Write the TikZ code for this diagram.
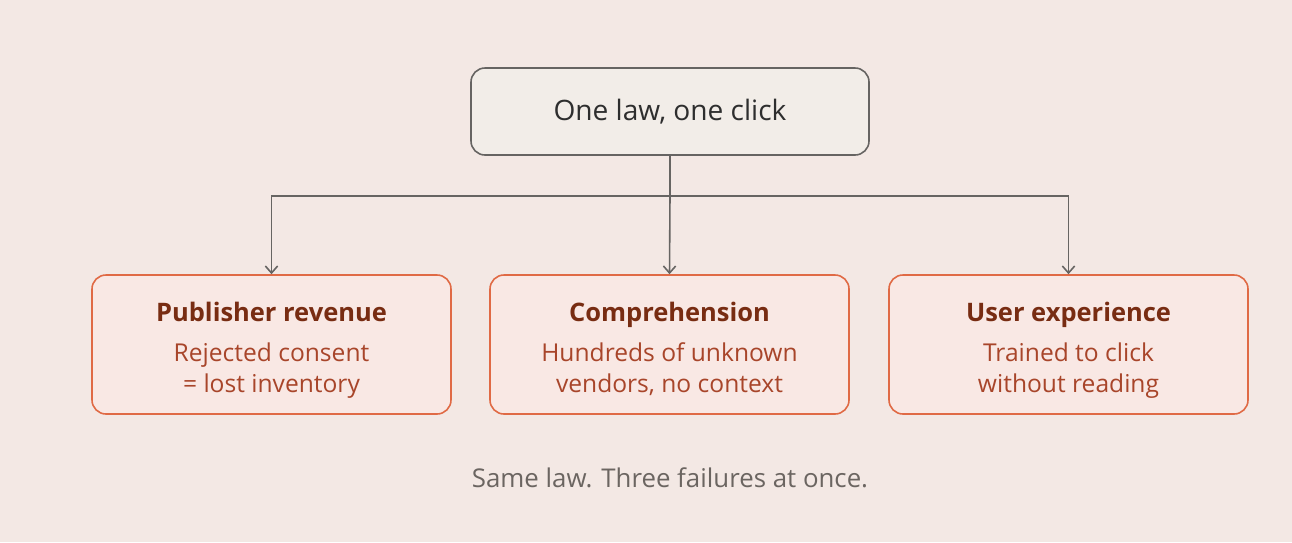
\documentclass[tikz,border=0pt]{standalone}
\usepackage{xcolor}
\usepackage{fontspec}
\setmainfont{Open Sans}
\usepackage{tikz}
\usetikzlibrary{arrows.meta}

\definecolor{bgcol}{HTML}{F3E8E4}
\definecolor{rootfill}{HTML}{F2EDE8}
\definecolor{rootline}{HTML}{666462}
\definecolor{failfill}{HTML}{F9E8E4}
\definecolor{failline}{HTML}{E06A45}
\definecolor{failhead}{HTML}{782C12}
\definecolor{failtext}{HTML}{A8452A}
\definecolor{notecol}{HTML}{6B6561}

\newcommand{\failtitle}[1]{\rule{0pt}{19pt}{\fontsize{14.5}{17}\selectfont\bfseries\color{failhead}#1}}
\newcommand{\failend}{\rule[-4.5pt]{0pt}{1pt}}

\begin{document}
\begin{tikzpicture}[x=0.02cm, y=-0.02cm]
        % Define styles
        \tikzset{
            root/.style={rectangle, rounded corners=14*0.02cm, draw=rootline, line width=0.9pt, fill=rootfill,
                minimum width=398*0.02cm, minimum height=87*0.02cm, font=\fontsize{16}{19}\selectfont, text=black!82},
            failure/.style={rectangle, rounded corners=14*0.02cm, draw=failline, line width=0.9pt, fill=failfill,
                minimum width=359*0.02cm, minimum height=139*0.02cm, align=center, text=failtext,
                font=\fontsize{14}{17.6}\selectfont},
            arrow/.style={->, >={Straight Barb[length=4pt, width=7pt]}, draw=rootline, line width=0.9pt}
        }

        % Background
        \fill[bgcol] (0,0) rectangle (1292,542);
        \useasboundingbox (0,0) rectangle (1292,542);

        % Nodes
        \node[root] (law) at (670,111.5) {One law, one click};
        \node[failure] (revenue) at (271.5,344.5) {\failtitle{Publisher revenue}\\[5pt] Rejected consent\\= lost inventory\failend};
        \node[failure] (comprehension) at (669.5,344.5) {\failtitle{Comprehension}\\[5pt] Hundreds of unknown\\vendors, no context\failend};
        \node[failure] (experience) at (1068.5,344.5) {\failtitle{User experience}\\[5pt] Trained to click\\without reading\failend};
        \coordinate (split) at (670,196);

        % Arrows
        \draw[arrow] (law.south) -- (split) -| (revenue.north);
        \draw[arrow] (split) -- (comprehension.north);
        \draw[arrow] (split) -| (experience.north);

        % Footnote
        \node[text=notecol, font=\fontsize{14.7}{17}\selectfont] (note) at (670,478) {Same law. Three failures at once.};
    \end{tikzpicture}
\end{document}
